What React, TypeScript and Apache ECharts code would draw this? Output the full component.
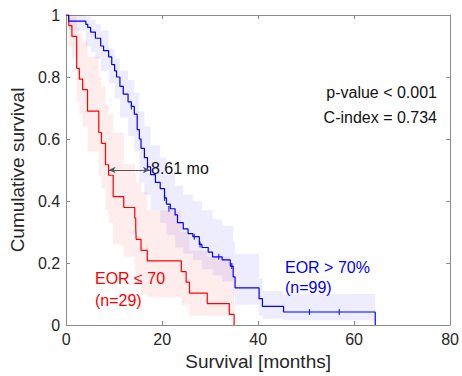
import React, { useEffect, useRef } from "react";
import * as echarts from "echarts";

// ---- Kaplan-Meier curves (time in months, survival) ----
const redTimes = [0, 0.55, 1.2, 2.2, 2.75, 3.44, 4.46, 6.8, 7.36, 8.2, 8.85, 9.8, 12.0, 14.3, 14.5, 14.6, 15.6, 16.9, 24.0, 25.0, 25.7, 29.4, 34.0, 35.0];
const redSurv = [1, 0.966, 0.931, 0.828, 0.793, 0.759, 0.69, 0.621, 0.586, 0.517, 0.483, 0.414, 0.379, 0.345, 0.31, 0.276, 0.241, 0.207, 0.172, 0.138, 0.103, 0.069, 0.034, 0];

const blueTimes = [0, 0.5, 4.1, 4.5, 5.1, 6.1, 7.2, 7.8, 8.85, 9.5, 10.1, 10.5, 11.2, 11.9, 12.9, 13.6, 14.2, 14.8, 15.25, 15.6, 16.3, 16.95, 17.6, 18.6, 19.6, 20.5, 20.9, 21.7, 22.7, 23.2, 24.4, 25.4, 26.4, 27.75, 28.3, 29.6, 30.5, 32.5, 34.2, 34.8, 35.2, 40.2, 40.9, 45.3, 64.4];
const blueSurv = [1, 0.98, 0.97, 0.96, 0.945, 0.925, 0.9, 0.885, 0.865, 0.84, 0.82, 0.8, 0.77, 0.745, 0.72, 0.705, 0.68, 0.63, 0.6, 0.57, 0.54, 0.51, 0.485, 0.46, 0.44, 0.41, 0.39, 0.375, 0.355, 0.33, 0.31, 0.295, 0.285, 0.26, 0.25, 0.235, 0.22, 0.21, 0.19, 0.155, 0.12, 0.085, 0.06, 0.042, 0];

// censored observations (blue group)
const blueCensorT = [13.6, 16.95, 20.5, 21.4, 26.7, 27.9, 31.8, 34.5, 50.7, 56.9];
const blueCensorS = [0.705, 0.51, 0.41, 0.375, 0.285, 0.26, 0.22, 0.19, 0.042, 0.042];

// ---- confidence bands (interval start times, lower, upper) ----
const redBandT = [0, 0.55, 1.2, 2.2, 2.75, 3.44, 4.46, 6.8, 7.36, 8.2, 8.85, 9.8, 12.0, 14.3, 14.6, 15.6, 16.9, 24.0, 25.7, 29.4, 34.0, 35.0];
const redBandLo = [1, 0.9, 0.86, 0.72, 0.68, 0.64, 0.56, 0.48, 0.44, 0.37, 0.33, 0.26, 0.22, 0.18, 0.13, 0.1, 0.09, 0.065, 0.03, 0.03, 0.03, 0.03];
const redBandHi = [1, 1, 0.995, 0.96, 0.94, 0.915, 0.865, 0.8, 0.77, 0.71, 0.68, 0.62, 0.52, 0.49, 0.46, 0.43, 0.37, 0.3, 0.24, 0.22, 0.2, 0.2];

const blueBandT = [0, 0.5, 4.1, 5.1, 6.1, 7.2, 8.85, 10.1, 11.2, 12.9, 14.2, 15.25, 16.3, 17.6, 19.6, 20.9, 22.7, 24.4, 26.4, 28.3, 30.5, 32.5, 34.8, 35.2, 40.2, 40.9, 45.3, 64.4];
const blueBandLo = [1, 0.95, 0.9, 0.88, 0.86, 0.82, 0.78, 0.73, 0.67, 0.61, 0.56, 0.46, 0.42, 0.37, 0.33, 0.29, 0.25, 0.23, 0.21, 0.18, 0.16, 0.14, 0.1, 0.065, 0.03, 0.02, 0.015, 0.015];
const blueBandHi = [1, 1, 0.995, 0.985, 0.97, 0.95, 0.89, 0.86, 0.82, 0.79, 0.75, 0.69, 0.64, 0.58, 0.54, 0.49, 0.45, 0.42, 0.4, 0.37, 0.34, 0.32, 0.27, 0.23, 0.15, 0.11, 0.1, 0.1];

// median difference arrow
const medianRed = 8.85;
const medianBlue = 17.46;
const medianLevel = 0.5;

const xTicks = { min: 0, max: 80, interval: 20 };
const yTicks = { min: 0, max: 1, interval: 0.2 };

const FONT = "'Liberation Sans', Arial, Helvetica, sans-serif";
const TXT = "#262626";
const AX = "#8c8c8c";

function bandRender(T: number[], L: number[], U: number[], color: string) {
  return (params: any, api: any) => {
    if (params.dataIndex !== 0) return null;
    const pts: number[][] = [];
    for (let i = 0; i < T.length - 1; i++) {
      pts.push(api.coord([T[i], U[i]]));
      pts.push(api.coord([T[i + 1], U[i]]));
    }
    for (let i = T.length - 2; i >= 0; i--) {
      pts.push(api.coord([T[i + 1], L[i]]));
      pts.push(api.coord([T[i], L[i]]));
    }
    return { type: "polygon", shape: { points: pts }, style: { fill: color }, silent: true };
  };
}

export default function App() {
  const ref = useRef<HTMLDivElement>(null);
  useEffect(() => {
    document.body.style.margin = "0";
    const chart = echarts.init(ref.current!, null, { renderer: "svg" });
    const axisCommon = {
      axisLine: { show: true, onZero: false, lineStyle: { color: AX, width: 1 } },
      axisTick: { show: true, inside: true, length: 4, lineStyle: { color: AX } },
      splitLine: { show: false },
    };
    chart.setOption({
      animation: false,
      backgroundColor: "#fff",
      grid: { left: 58, right: 9, top: 15, bottom: 51, containLabel: false },
      xAxis: [
        {
          type: "value", ...xTicks, position: "bottom", ...axisCommon,
          axisLabel: { color: TXT, fontSize: 16, fontFamily: FONT, margin: 6 },
          name: "Survival [months]", nameLocation: "middle", nameGap: 24,
          nameTextStyle: { color: TXT, fontSize: 19, fontFamily: FONT },
        },
        { type: "value", ...xTicks, position: "top", ...axisCommon, axisLabel: { show: false } },
      ],
      yAxis: [
        {
          type: "value", ...yTicks, position: "left", ...axisCommon,
          axisLabel: { color: TXT, fontSize: 16, fontFamily: FONT, margin: 6 },
          name: "Cumulative survival", nameLocation: "middle", nameGap: 30,
          nameTextStyle: { color: TXT, fontSize: 19, fontFamily: FONT },
        },
        { type: "value", ...yTicks, position: "right", ...axisCommon, axisLabel: { show: false } },
      ],
      series: [
        {
          type: "custom", name: "red band", clip: true, z: 1,
          renderItem: bandRender(redBandT, redBandLo, redBandHi, "rgba(255,0,0,0.075)"),
          data: redBandT.map((t, i) => [t, redBandLo[i], redBandHi[i]]),
          encode: { x: 0, y: [1, 2] },
        },
        {
          type: "custom", name: "blue band", clip: true, z: 1,
          renderItem: bandRender(blueBandT, blueBandLo, blueBandHi, "rgba(0,0,255,0.07)"),
          data: blueBandT.map((t, i) => [t, blueBandLo[i], blueBandHi[i]]),
          encode: { x: 0, y: [1, 2] },
        },
        {
          type: "line", name: "EOR <= 70", step: "end", showSymbol: false, z: 3,
          data: redTimes.map((t, i) => [t, redSurv[i]]),
          lineStyle: { color: "#ff0000", width: 1.2 },
        },
        {
          type: "line", name: "EOR > 70%", step: "end", showSymbol: false, z: 3,
          data: blueTimes.map((t, i) => [t, blueSurv[i]]),
          lineStyle: { color: "#0000ff", width: 1.2 },
        },
        {
          type: "scatter", name: "censored", z: 4,
          symbol: "rect", symbolSize: [1.2, 6],
          itemStyle: { color: "#0000ff" },
          data: blueCensorT.map((t, i) => [t, blueCensorS[i]]),
          markLine: {
            silent: true,
            symbol: ["arrow", "arrow"],
            symbolSize: [5, 7],
            label: { show: false },
            lineStyle: { color: "#555", width: 1, type: "solid" },
            data: [[{ coord: [medianRed, medianLevel] }, { coord: [medianBlue, medianLevel] }]],
          },
        },
      ],
      graphic: [
        { type: "text", x: 437, y: 92, style: { text: "p-value < 0.001", align: "right", verticalAlign: "middle", fontSize: 16, fontFamily: FONT, fill: "#111" } },
        { type: "text", x: 437, y: 117, style: { text: "C-index = 0.734", align: "right", verticalAlign: "middle", fontSize: 16, fontFamily: FONT, fill: "#111" } },
        { type: "text", x: 151, y: 168, style: { text: "8.61 mo", align: "left", verticalAlign: "middle", fontSize: 16, fontFamily: FONT, fill: "#111" } },
        { type: "text", x: 95, y: 278, style: { text: "EOR ≤ 70", align: "left", verticalAlign: "middle", fontSize: 16, fontFamily: FONT, fill: "#ff0000" } },
        { type: "text", x: 95, y: 300, style: { text: "(n=29)", align: "left", verticalAlign: "middle", fontSize: 16, fontFamily: FONT, fill: "#ff0000" } },
        { type: "text", x: 285, y: 267, style: { text: "EOR > 70%", align: "left", verticalAlign: "middle", fontSize: 16, fontFamily: FONT, fill: "#0000ff" } },
        { type: "text", x: 285, y: 287, style: { text: "(n=99)", align: "left", verticalAlign: "middle", fontSize: 16, fontFamily: FONT, fill: "#0000ff" } },
      ],
    });
    return () => chart.dispose();
  }, []);
  return <div ref={ref} style={{ width: 462, height: 376 }} />;
}
